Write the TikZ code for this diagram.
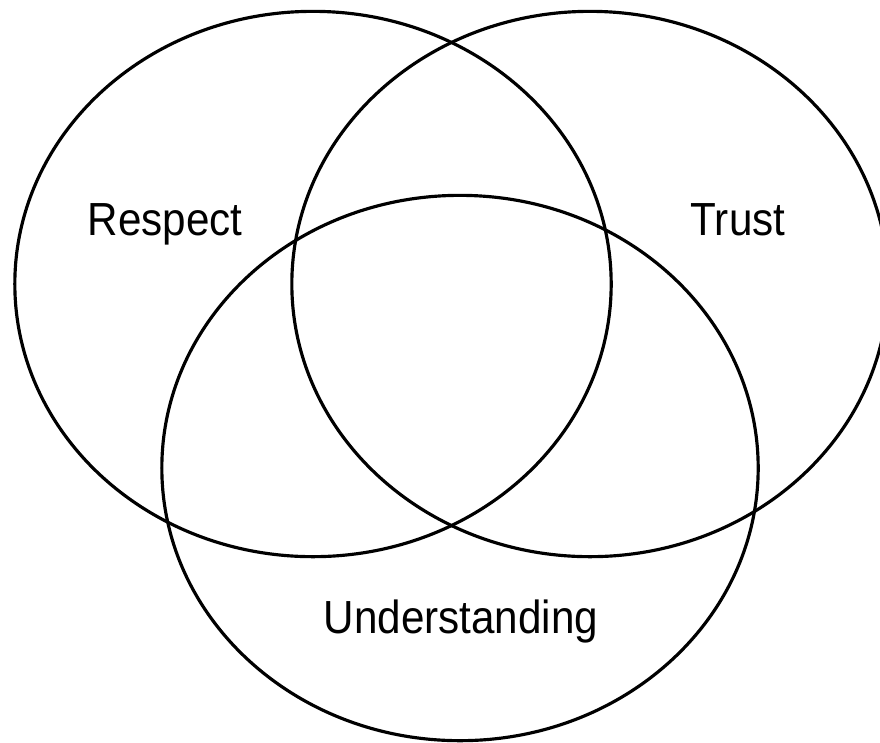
\documentclass[tikz,border=0pt]{standalone}
\usepackage{fontspec}
\setmainfont{Liberation Sans}
\usepackage{tikz}
\usetikzlibrary{shapes.geometric, positioning}

\newcommand{\tallword}[1]{\scalebox{1}[1.1]{#1}}

\begin{document}
\begin{tikzpicture}[
  x=0.01cm, y=-0.01cm,
  ring/.style={ellipse, draw, line width=0.9pt, inner sep=0pt, minimum width=5.96cm, minimum height=5.45cm},
  word/.style={anchor=base, inner sep=0pt, font=\fontsize{12}{14}\selectfont},
]
\useasboundingbox (0,0) rectangle (880,742);
\node[ring] (respect) at (313,284) {};
\node[ring] (trust) at (590,284) {};
\node[ring] (understanding) at (460,468) {};

\node[word] (lrespect) at (165,235) {\tallword{Respect}};
\node[word] (ltrust) at (738,235) {\tallword{Trust}};
\node[word] (lunderstanding) at (461,633) {\tallword{Understanding}};
\end{tikzpicture}
\end{document}
